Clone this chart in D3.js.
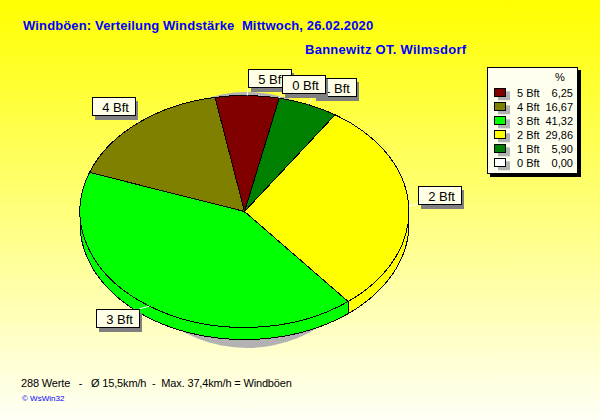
<!DOCTYPE html>
<html><head><meta charset="utf-8">
<script src="https://cdn.jsdelivr.net/npm/d3@7"></script>
<style>html,body{margin:0;padding:0;overflow:hidden;background:#ffffe8}svg{display:block}</style>
</head><body><svg id="c" width="600" height="420"></svg>
<script>
const categories=["1 Bft","2 Bft","3 Bft","4 Bft","5 Bft","0 Bft"];
const values=[5.90,29.86,41.32,16.67,6.25,0.00];
const colors=["#008000","#FFFF00","#00FF00","#808000","#800000","#FFFFFF"];
const labelNudgeX=[1,0,-5,3,1,1];
const labelNudgeY=[-2,-1,-3,-3,-2,2];
const legendCategories=["5 Bft","4 Bft","3 Bft","2 Bft","1 Bft","0 Bft"];
const legendValues=["6,25","16,67","41,32","29,86","5,90","0,00"];
const legendColors=["#800000","#808000","#00FF00","#FFFF00","#008000","#FFFFFF"];
const titleText="Windböen: Verteilung Windstärke  Mittwoch, 26.02.2020";
const subtitleText="Bannewitz OT. Wilmsdorf";
const footerText="288 Werte   -   Ø 15,5km/h  -  Max. 37,4km/h = Windböen";
const creditText="© WsWin32";

const svg=d3.select("#c");
const sans='"Liberation Sans",Arial,sans-serif';
const defs=svg.append("defs");
const g=defs.append("linearGradient").attr("id","bg").attr("x1",0).attr("y1",0).attr("x2",0).attr("y2",1);
g.append("stop").attr("offset",0).attr("stop-color","#FFFF00");
g.append("stop").attr("offset",1).attr("stop-color","#FFFFF6");
svg.append("rect").attr("width",600).attr("height",420).attr("fill","url(#bg)");

const cx=244.5,cy=211.5,rx=164.5,ry=116,depth=12;
const start=12.2*Math.PI/180;
const pie=d3.pie().value(d=>d).sort(null).startAngle(start).endAngle(start+2*Math.PI);
const arcs=pie(values);
const fillArc=d3.arc().innerRadius(0).outerRadius(1);
const ptX=a=>cx+rx*Math.sin(a), ptY=a=>cy-ry*Math.cos(a);

// shadow
svg.append("ellipse").attr("cx",247).attr("cy",220).attr("rx",131).attr("ry",128).attr("fill","#B2B2B2");

// wall: band between the rim and the rim moved down by the depth
function sweep(d){
  const n=Math.max(2,Math.ceil((d.endAngle-d.startAngle)/0.01));
  return d3.range(n+1).map(i=>d.startAngle+(d.endAngle-d.startAngle)*i/n);
}
function wallPath(d){
  const angles=sweep(d);
  const upper=angles.map(a=>[ptX(a),ptY(a)]);
  const lower=angles.slice().reverse().map(a=>[ptX(a),ptY(a)+depth]);
  return d3.line()(upper.concat(lower))+"Z";
}
const lowerRim=d=>d3.line()(sweep(d).map(a=>[ptX(a),ptY(a)+depth]));
const pieces=arcs.filter(d=>d.value>0);
svg.selectAll("path.wall").data(pieces).join("path").attr("class","wall")
  .attr("d",wallPath).attr("fill",d=>colors[d.index]);
svg.selectAll("path.rim").data(pieces).join("path").attr("class","rim")
  .attr("d",lowerRim).attr("fill","none").attr("stroke","#000").attr("shape-rendering","crispEdges");
svg.selectAll("line.seam").data(pieces.filter(d=>Math.cos(d.endAngle)<0)).join("line")
  .attr("x1",d=>ptX(d.endAngle)).attr("x2",d=>ptX(d.endAngle))
  .attr("y1",d=>ptY(d.endAngle)).attr("y2",d=>ptY(d.endAngle)+depth)
  .attr("stroke","#000").attr("shape-rendering","crispEdges");
// top
const top_=svg.append("g").attr("transform",`translate(${cx},${cy}) scale(${rx},${ry})`);
top_.selectAll("path").data(pieces).join("path")
  .attr("d",fillArc).attr("fill",d=>colors[d.index])
  .attr("stroke","#000").attr("stroke-width",1).attr("vector-effect","non-scaling-stroke")
  .attr("shape-rendering","crispEdges");

// labels
const W=43,H=18;
categories.forEach((name,i)=>{
  const d=arcs[i], a=(d.startAngle+d.endAngle)/2;
  const x0=ptX(a), y0=ptY(a);
  const s=Math.sin(a), c=Math.cos(a);
  const x1=x0+9*s, y1=y0-7*c;
  const bx=Math.round(s>=0?x1:x1-W)+labelNudgeX[i], by=Math.round(c>=0?y1-H:y1)+labelNudgeY[i];
  const lab=svg.append("g");
  lab.append("line").attr("x1",x0).attr("y1",y0)
    .attr("x2",s>=0?bx:bx+W).attr("y2",c>=0?by+H:by).attr("stroke","#fff");
  lab.append("rect").attr("x",bx+3).attr("y",by+4).attr("width",W).attr("height",H+1).attr("fill","#808080");
  lab.append("rect").attr("x",bx+.5).attr("y",by+.5).attr("width",W).attr("height",H)
    .attr("fill","#FFFFE8").attr("stroke","#000").attr("shape-rendering","crispEdges");
  lab.append("text").attr("x",bx+W/2+2).attr("y",by+14.5).attr("text-anchor","middle")
    .attr("font-family",sans).attr("font-size",13).attr("fill","#000").text(name);
});

// titles
svg.append("text").attr("x",23).attr("y",30).attr("font-family",sans).attr("font-weight","bold")
  .attr("font-size",13).attr("letter-spacing",0.14).attr("fill","#0000FF").style("white-space","pre").text(titleText);
svg.append("text").attr("x",305).attr("y",54).attr("font-family",sans).attr("font-weight","bold")
  .attr("font-size",13).attr("letter-spacing",0.27).attr("fill","#0000FF").text(subtitleText);

// legend
svg.append("rect").attr("x",490).attr("y",70).attr("width",91).attr("height",107).attr("fill","#000");
svg.append("rect").attr("x",487.5).attr("y",67.5).attr("width",90).attr("height",106)
  .attr("fill","#FFFFF0").attr("stroke","#000");
svg.append("text").attr("x",560).attr("y",81).attr("text-anchor","middle").attr("font-family",sans).attr("font-size",11).text("%");
const rowY=d3.scalePoint().domain(legendCategories).range([93.3,163.3]);
legendCategories.forEach((n,i)=>{
  const y=rowY(n);
  svg.append("rect").attr("x",498).attr("y",y-2).attr("width",12).attr("height",9).attr("fill","#B2B2B2");
  svg.append("rect").attr("x",494.5).attr("y",Math.round(y)-4.5).attr("width",11).attr("height",8)
    .attr("fill",legendColors[i]).attr("stroke","#000").attr("shape-rendering","crispEdges");
  svg.append("text").attr("x",517).attr("y",y+4).attr("font-family",sans).attr("font-size",11).text(n);
  svg.append("text").attr("x",573).attr("y",y+4).attr("text-anchor","end").attr("font-family",sans).attr("font-size",11).text(legendValues[i]);
});

// footer
svg.append("text").attr("x",21).attr("y",387).attr("font-family",sans).attr("font-size",11).attr("letter-spacing",-0.16).style("white-space","pre").text(footerText);
svg.append("text").attr("x",22).attr("y",401).attr("font-family",sans).attr("font-size",8).attr("fill","#0000FF").text(creditText);
</script></body></html>
